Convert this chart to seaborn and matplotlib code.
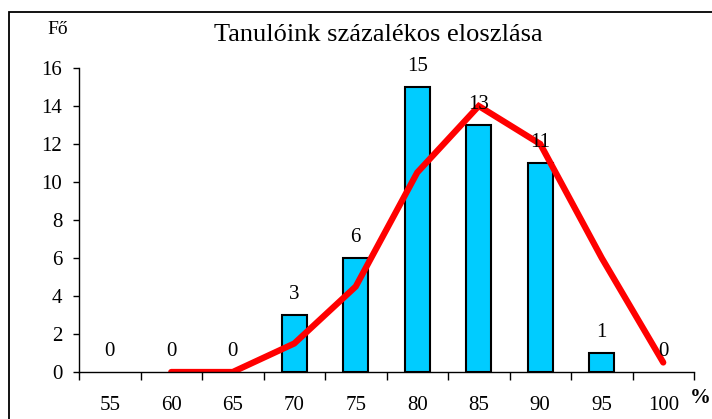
import matplotlib
matplotlib.use("Agg")
import matplotlib.pyplot as plt
import seaborn as sns
import pandas as pd
from matplotlib.patches import Rectangle

categories = ["55", "60", "65", "70", "75", "80", "85", "90", "95", "100"]
counts = [0, 0, 0, 3, 6, 15, 13, 11, 1, 0]
line_categories = ["60", "65", "70", "75", "80", "85", "90", "95", "100"]
line_values = [0, 0, 1.5, 4.5, 10.5, 14, 12, 6, 0.5]
y_ticks = [0, 2, 4, 6, 8, 10, 12, 14, 16]
title = "Tanulóink százalékos eloszlása"
y_label = "Fő"
x_label = "%"

sns.set_theme(style="white")
plt.rcParams["font.family"] = ["Liberation Serif", "DejaVu Serif"]
plt.rcParams["text.color"] = "black"
plt.rcParams["xtick.color"] = "black"
plt.rcParams["ytick.color"] = "black"

W, H = 712, 419
fig = plt.figure(figsize=(W / 100, H / 100), dpi=100)
ax = fig.add_axes([79 / W, 1 - 372 / H, (694 - 79) / W, (372 - 68) / H])

bar_df = pd.DataFrame({"cat": categories, "n": counts})
sns.barplot(data=bar_df, x="cat", y="n", order=categories, color="#00CCFF",
            saturation=1, width=0.4, edgecolor="black", linewidth=1.5, ax=ax)
for p in ax.patches:
    if p.get_height() == 0:
        p.set_linewidth(0)
for c in ax.containers:
    ax.bar_label(c, labels=[str(v) for v in counts], padding=8, fontsize=15, color="black")

line_df = pd.DataFrame({"pos": [categories.index(c) for c in line_categories],
                        "v": line_values})
sns.lineplot(data=line_df, x="pos", y="v", color="#FF0000", linewidth=4.5,
             ax=ax, solid_capstyle="round", solid_joinstyle="miter")

ax.set_xlim(-0.5, len(categories) - 0.5)
ax.set_ylim(0, 16)
ax.set_yticks(y_ticks)
ax.set_yticklabels([str(t) for t in y_ticks], fontsize=15)
ax.set_xticks(range(len(categories)))
ax.set_xticklabels(categories, fontsize=15)
ax.set_xticks([i - 0.5 for i in range(len(categories) + 1)], minor=True)
ax.tick_params(axis="x", which="major", length=0, pad=17, colors="black")
ax.tick_params(axis="x", which="minor", length=6, width=1, bottom=True, direction="out", color="black")
ax.tick_params(axis="y", which="major", length=4, width=1, pad=8, left=True, direction="out", colors="black")
ax.set_xlabel("")
ax.set_ylabel("")
for s in ["top", "right"]:
    ax.spines[s].set_visible(False)
for s in ["left", "bottom"]:
    ax.spines[s].set_color("black")
    ax.spines[s].set_linewidth(1)
ax.grid(False)

fig.text(378 / W, 1 - 35 / H, title, ha="center", va="center", fontsize=19)
fig.text(58 / W, 1 - 30 / H, y_label, ha="center", va="center", fontsize=14)
fig.text(711 / W, 1 - 398 / H, x_label, ha="right", va="center", fontsize=15, fontweight="bold")

fig.patches.append(Rectangle((9 / W, -0.1), 1.2, 1 - 12 / H + 0.1, transform=fig.transFigure,
                             fill=False, edgecolor="black", linewidth=1.3, zorder=-1))

fig.savefig("out.png", dpi=100)
